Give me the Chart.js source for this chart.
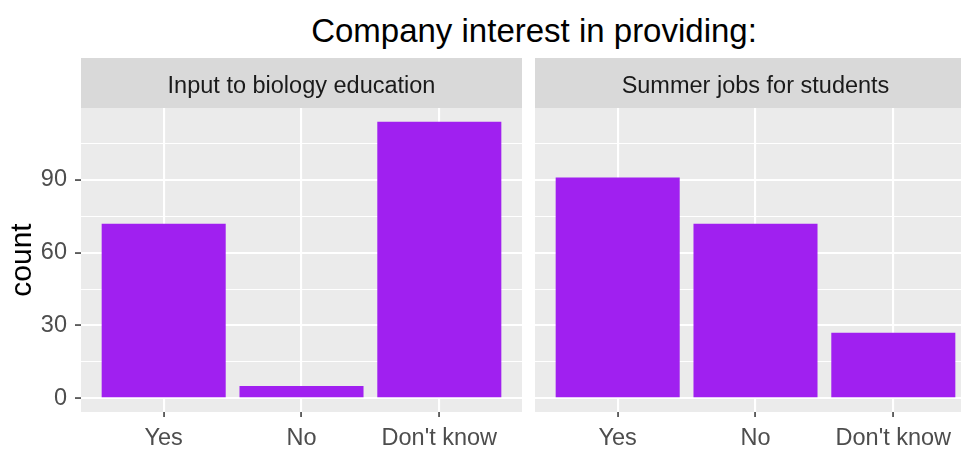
<!DOCTYPE html>
<html lang="en">
<head>
  <meta charset="UTF-8">
  <title>Company interest in providing</title>
  <script src="https://cdn.jsdelivr.net/npm/chart.js"></script>
  <style>
    body { margin: 0; background: #fff; }
    #wrap { position: relative; width: 961px; height: 450px; overflow: hidden; font-family: "Liberation Sans", Arial, sans-serif; }
    #title { position: absolute; left: 534px; top: 14px; transform: translateX(-50%); font-size: 33px; line-height: 33px; color: #000; white-space: nowrap; }
    .panel { position: absolute; top: 0; height: 450px; }
    #p1 { left: 0; width: 522px; }
    #p2 { left: 535px; width: 441px; }
  </style>
</head>
<body>
  <div id="wrap">
    <div id="title">Company interest in providing:</div>
    <div class="panel" id="p1"><canvas id="chart1"></canvas></div>
    <div class="panel" id="p2"><canvas id="chart2"></canvas></div>
  </div>

  <script>
const categories = ['Yes', 'No', "Don't know"];
const biologyCounts = [72, 5, 114];
const summerCounts = [91, 72, 27];
const panelLabels = ['Input to biology education', 'Summer jobs for students'];
const yLabelValues = [0, 30, 60, 90];
const yGridValues = [0, 15, 30, 45, 60, 75, 90, 105];

const FONT = '"Liberation Sans", Arial, sans-serif';
const BAR = '#A020F0';

// grey panel + facet strip, drawn before the grid
const stripPlugin = {
  id: 'strip',
  beforeDraw(chart, args, opts) {
    const { ctx, chartArea: a } = chart;
    ctx.save();
    ctx.fillStyle = '#EBEBEB';
    ctx.fillRect(a.left, a.top, a.right - a.left, a.bottom - a.top);
    ctx.fillStyle = '#D9D9D9';
    ctx.fillRect(a.left, 58, a.right - a.left, a.top - 58);
    ctx.fillStyle = '#1A1A1A';
    ctx.font = '23.5px ' + FONT;
    ctx.textAlign = 'center';
    ctx.textBaseline = 'alphabetic';
    ctx.fillText(opts.label, (a.left + a.right) / 2, 93);
    ctx.restore();
  }
};

function makePanel(id, values, label, showY) {
  const ctx = document.getElementById(id).getContext('2d');
  return new Chart(ctx, {
    type: 'bar',
    data: {
      datasets: [{
        data: values.map((v, i) => ({ x: i, y: v })),
        backgroundColor: BAR,
        borderWidth: 0,
        barPercentage: 0.9,
        categoryPercentage: 1
      }]
    },
    options: {
      responsive: true,
      maintainAspectRatio: false,
      animation: false,
      layout: { padding: { top: 108, left: 0, right: 0, bottom: 0 } },
      plugins: {
        legend: { display: false },
        tooltip: { enabled: false },
        strip: { label: label }
      },
      scales: {
        x: {
          type: 'linear',
          min: -0.6,
          max: 2.6,
          offset: false,
          afterBuildTicks: s => { s.ticks = categories.map((c, i) => ({ value: i })); },
          afterFit: s => { s.height = 38; },
          border: { display: false },
          grid: { offset: false, color: '#FFFFFF', lineWidth: 2.1, tickLength: 5, tickColor: '#333333', tickWidth: 1.5 },
          ticks: {
            autoSkip: false,
            maxRotation: 0,
            padding: 7,
            color: '#4D4D4D',
            font: { family: FONT, size: 23.5 },
            callback: v => categories[v]
          }
        },
        y: {
          min: -5.7,
          max: 119.7,
          afterBuildTicks: s => { s.ticks = yGridValues.map(v => ({ value: v })); },
          afterFit: s => { s.width = showY ? 81 : 0; },
          border: { display: false },
          grid: {
            color: '#FFFFFF',
            lineWidth: c => (c.tick && yLabelValues.includes(c.tick.value)) ? 2.1 : 1.1,
            drawTicks: showY,
            tickLength: 6,
            tickWidth: 1.5,
            tickColor: c => (c.tick && yLabelValues.includes(c.tick.value)) ? '#333333' : 'rgba(0,0,0,0)'
          },
          ticks: {
            display: showY,
            autoSkip: false,
            padding: 8,
            color: '#4D4D4D',
            font: { family: FONT, size: 23.5 },
            callback: v => yLabelValues.includes(v) ? String(v) : ''
          },
          title: {
            display: showY,
            text: 'count',
            color: '#000000',
            font: { family: FONT, size: 30 },
            padding: { top: 5, bottom: 0 }
          }
        }
      }
    },
    plugins: [stripPlugin]
  });
}

makePanel('chart1', biologyCounts, panelLabels[0], true);
makePanel('chart2', summerCounts, panelLabels[1], false);
  </script>
</body>
</html>
